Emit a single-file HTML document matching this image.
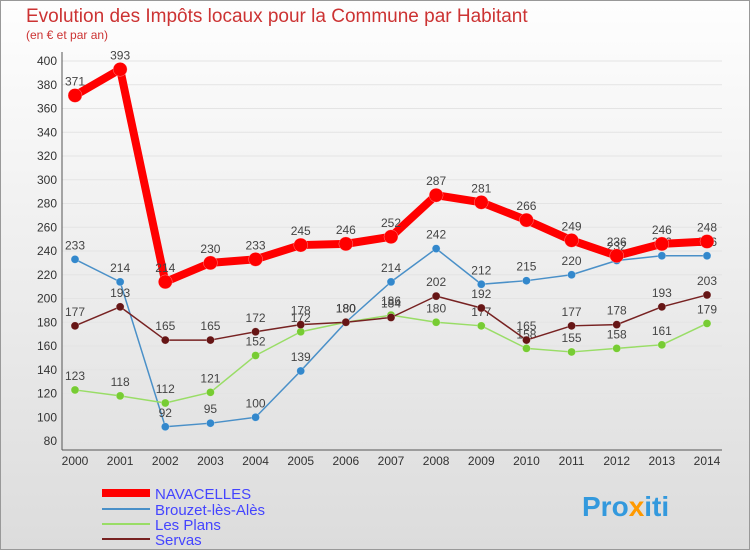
<!DOCTYPE html>
<html><head><meta charset="utf-8"><style>
body{margin:0;width:750px;height:550px;overflow:hidden;font-family:"Liberation Sans",sans-serif}
</style></head><body>
<svg width="750" height="550">
<defs><linearGradient id="bg" x1="0" y1="0" x2="0" y2="1"><stop offset="0" stop-color="#fefefe"/><stop offset="1" stop-color="#dcdcdc"/></linearGradient></defs>
<rect x="0.5" y="0.5" width="749" height="549" fill="url(#bg)" stroke="#999"/>
<text x="26" y="22" font-size="19" fill="#cc3333">Evolution des Impôts locaux pour la Commune par Habitant</text>
<text x="26" y="39" font-size="12" fill="#cc3333">(en € et par an)</text>
<g id="grid"></g><g id="marks"></g>
<g>
<line x1="102" y1="493" x2="150" y2="493" stroke="#ff0000" stroke-width="8"/>
<text x="155" y="499" font-size="15" fill="#4444ff">NAVACELLES</text>
<line x1="102" y1="509" x2="150" y2="509" stroke="#4a90c8" stroke-width="2"/>
<text x="155" y="515" font-size="15" fill="#4444ff">Brouzet-lès-Alès</text>
<line x1="102" y1="524" x2="150" y2="524" stroke="#99dd66" stroke-width="2"/>
<text x="155" y="530" font-size="15" fill="#4444ff">Les Plans</text>
<line x1="102" y1="539" x2="150" y2="539" stroke="#772222" stroke-width="2"/>
<text x="155" y="545" font-size="15" fill="#4444ff">Servas</text>
</g>
<text x="582" y="516" font-size="28" font-weight="bold" fill="#3399dd">Pro<tspan fill="#ff9900">x</tspan>iti</text>
</svg>
<script>
const years=[2000,2001,2002,2003,2004,2005,2006,2007,2008,2009,2010,2011,2012,2013,2014];
const yTicks=[80,100,120,140,160,180,200,220,240,260,280,300,320,340,360,380,400];
const navacelles=[371,393,214,230,233,245,246,252,287,281,266,249,236,246,248];
const brouzet=[233,214,92,95,100,139,180,214,242,212,215,220,232,236,236];
const lesPlans=[123,118,112,121,152,172,180,186,180,177,158,155,158,161,179];
const servas=[177,193,165,165,172,178,180,184,202,192,165,177,178,193,203];
const NS="http://www.w3.org/2000/svg";
const xs=i=>75+i*(707-75)/14;
const ys=v=>61+(400-v)*(441-61)/320;
function mk(t,a,p){const e=document.createElementNS(NS,t);for(const k in a)e.setAttribute(k,a[k]);p.appendChild(e);return e;}
const grid=document.getElementById('grid'),marks=document.getElementById('marks');
yTicks.forEach(v=>{
 const l=mk('line',{x1:62,x2:722,y1:ys(v),y2:ys(v),stroke:'#e4e4e4','stroke-width':1},grid);
 
 
 const t=mk('text',{x:57,y:ys(v)+4,'font-size':12,'text-anchor':'end',fill:'#333'},grid);t.textContent=v;
 
 
});
const ax=mk('line',{x1:62,x2:62,y1:52,y2:450,stroke:'#555'},grid);


const bx=mk('line',{x1:62,x2:722,y1:450,y2:450,stroke:'#555'},grid);


years.forEach((y,i)=>{
 const t=mk('text',{x:xs(i),y:465,'font-size':12,'text-anchor':'middle',fill:'#333'},grid);t.textContent=y;
 
 
});
const series=[[brouzet,'#4a90c8','#3388cc',1.5,4,'brouzet'],[lesPlans,'#99dd66','#77cc33',1.5,4,'les-plans'],[servas,'#772222','#661515',1.5,4,'servas'],[navacelles,'#ff0000','#ff0000',8,7,'navacelles']];
series.forEach(([d,c,f,w,r,n])=>{
 const p=mk('polyline',{points:d.map((v,i)=>xs(i)+','+ys(v)).join(' '),fill:'none',stroke:c,'stroke-width':w,'stroke-linejoin':'round'},marks);
 
 
 d.forEach((v,i)=>{
  const ci=mk('circle',{cx:xs(i),cy:ys(v),r:r,fill:f,stroke:'#fff','stroke-opacity':0.5,'stroke-width':0.5},marks);
  
  
  const t=mk('text',{x:xs(i),y:ys(v)-10,'font-size':12,'text-anchor':'middle',fill:'#444'},marks);t.textContent=v;
  
  
 });
});
</script>
</body></html>
